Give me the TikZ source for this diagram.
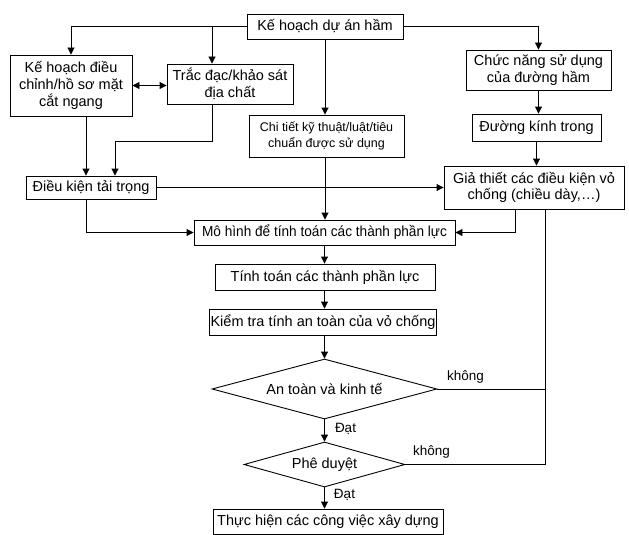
\documentclass[tikz,border=0pt]{standalone}
\usepackage{fontspec}
\setmainfont{Liberation Sans}
\newfontfamily\condfont{Liberation Sans}[FakeStretch=0.94]
\usetikzlibrary{shapes.geometric,arrows.meta}
\begin{document}
\begin{tikzpicture}[x=1pt,y=-1pt,
  box/.style={draw=black,line width=0.9pt,align=center,inner sep=1pt,
    font=\fontsize{14.5}{16.7}\selectfont},
  dia/.style={draw=black,line width=0.9pt,diamond,inner sep=1pt,
    font=\fontsize{14.5}{16.7}\selectfont},
  lbl/.style={inner sep=0pt,font=\fontsize{13.5}{15}\selectfont},
  arr/.style={line width=0.9pt,-{Triangle[length=7pt,width=7pt]}},
  arrb/.style={line width=0.9pt,{Triangle[length=7pt,width=7pt]}-{Triangle[length=7pt,width=7pt]}},
  ln/.style={line width=0.9pt}
]
\useasboundingbox (0,0) rectangle (629,535);

\node[box,minimum width=156pt,minimum height=25pt] (top) at (325,26.5) {Kế hoạch dự án hầm};
\node[box,minimum width=122pt,minimum height=61pt] (khd) at (71,85.5) {Kế hoạch điều\\chỉnh/hồ sơ mặt\\cắt ngang};
\node[box,minimum width=126pt,minimum height=40pt] (tracdac) at (230,84) {Trắc đạc/khảo sát\\địa chất};
\node[box,minimum width=155pt,minimum height=42pt,font=\fontsize{12.5}{16.5}\selectfont] (chitiet) at (326.5,136) {Chi tiết kỹ thuật/luật/tiêu\\chuẩn được sử dụng};
\node[box,minimum width=145pt,minimum height=40pt] (chucnang) at (538.5,70) {Chức năng sử dụng\\của đường hầm};
\node[box,minimum width=129pt,minimum height=27pt] (duongkinh) at (536.5,127.5) {Đường kính trong};
\node[box,minimum width=180pt,minimum height=43pt] (giathiet) at (534,187.5) {Giả thiết các điều kiện vỏ\\chống (chiều dày,…)};
\node[box,minimum width=130pt,minimum height=23pt] (dieukien) at (91,187.5) {Điều kiện tải trọng};
\node[box,minimum width=261pt,minimum height=25pt,font=\condfont\fontsize{14.5}{16.7}\selectfont] (mohinh) at (324.5,232.5) {Mô hình để tính toán các thành phần lực};
\node[box,minimum width=220pt,minimum height=26pt] (tinhtoan) at (325,277) {Tính toán các thành phần lực};
\node[box,minimum width=226pt,minimum height=26pt] (kiemtra) at (323,322) {Kiểm tra tính an toàn của vỏ chống};
\node[dia,aspect=3.75,minimum width=225pt,minimum height=60pt] (d1) at (324.5,389) {An toàn và kinh tế};
\node[dia,aspect=3.58,minimum width=161pt,minimum height=45pt] (d2) at (324.5,464.5) {Phê duyệt};
\node[box,minimum width=230pt,minimum height=25pt] (thuchien) at (328,521.5) {Thực hiện các công việc xây dựng};

\node[lbl] (k1) at (465.5,377) {không};
\node[lbl] (k2) at (431.5,452) {không};
\node[lbl] (o1) at (345.5,429) {Đạt};
\node[lbl] (o2) at (344.5,495) {Đạt};

\coordinate (b1) at (212,26.5);
\coordinate (fbx) at ([xshift=11pt]giathiet.south);

\draw[arr] (top.west) -| (khd.north);
\draw[arr] (b1) -- (b1 |- tracdac.north);
\draw[arr] (top.east) -| (chucnang.north);
\draw[arr] (top.south) -- (top.south |- chitiet.north);
\draw[arrb] (khd.east) -- (khd.east -| tracdac.west);
\draw[arr] ([xshift=15pt]khd.south) -- ([xshift=15pt]khd.south |- dieukien.north);
\draw[arr] ([xshift=-18pt]tracdac.south) -- ++(0,37) -| ([xshift=24pt]dieukien.north);
\draw[arr] (chucnang.south) -- (chucnang.south |- duongkinh.north);
\draw[arr] (duongkinh.south) -- (duongkinh.south |- giathiet.north);
\draw[arr] (dieukien.east) -- (dieukien.east -| giathiet.west);
\draw[arr] ([xshift=-5pt]dieukien.south) |- (mohinh.west);
\draw[arr] (top.south |- chitiet.south) -- (top.south |- mohinh.north);
\draw[arr] ([xshift=-19pt]giathiet.south) |- (mohinh.east);
\draw[arr] (d1.north |- mohinh.south) -- (d1.north |- tinhtoan.north);
\draw[arr] (d1.north |- tinhtoan.south) -- (d1.north |- kiemtra.north);
\draw[arr] (d1.north |- kiemtra.south) -- (d1.north);
\draw[arr] (d1.south) -- (d2.north);
\draw[arr] (d2.south) -- (d2.south |- thuchien.north);
\draw[ln] (d1.east) -- (d1.east -| fbx);
\draw[ln] (d2.east) -| (fbx);
\end{tikzpicture}
\end{document}
